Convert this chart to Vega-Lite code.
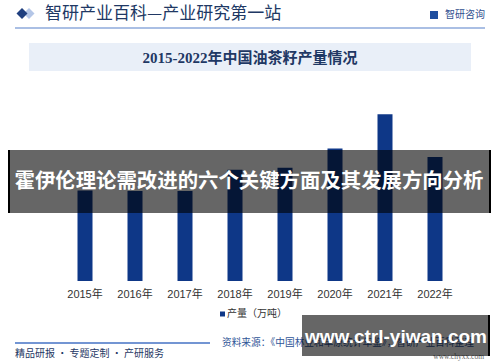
{
  "$schema": "https://vega.github.io/schema/vega-lite/v6.json",
  "width": 400,
  "height": 191,
  "autosize": {"type": "none"},
  "padding": {"left": 60, "top": 90, "right": 40, "bottom": 81},
  "background": "white",
  "config": {"view": {"stroke": null}, "font": "Liberation Sans, Noto Sans CJK SC"},
  "layer": [
    {
      "data": {"values": [
        {"year": "2015年", "output": 213},
        {"year": "2016年", "output": 212},
        {"year": "2017年", "output": 212},
        {"year": "2018年", "output": 262},
        {"year": "2019年", "output": 267},
        {"year": "2020年", "output": 312},
        {"year": "2021年", "output": 393},
        {"year": "2022年", "output": 292}
      ]},
      "mark": {"type": "bar", "color": "#0e3787"},
      "encoding": {
        "x": {"field": "year", "type": "nominal", "sort": null,
          "scale": {"paddingInner": 0.7, "paddingOuter": 0.35},
          "axis": {"title": null, "labelAngle": 0, "labelColor": "#333333", "labelFontSize": 11, "labelFont": "Liberation Sans, Noto Sans CJK SC", "ticks": false, "domain": false, "labelPadding": 7}},
        "y": {"field": "output", "type": "quantitative",
          "scale": {"domain": [0, 450], "nice": false},
          "axis": {"title": null, "values": [0, 50, 100, 150, 200, 250, 300, 350, 400, 450], "labelColor": "#666666", "labelFontSize": 11, "labelFont": "Liberation Sans", "ticks": false, "domain": false, "labelPadding": 9, "gridColor": "#e3e3e3"}}
      }
    },
    {
      "layer": [
        {"mark": {"type": "rect", "color": "#e9eff8"},
         "encoding": {"x": {"datum": 2013.88, "type": "quantitative"}, "x2": {"datum": 2022.72}, "y": {"datum": 560.7, "type": "quantitative"}, "y2": {"datum": 494.8}}},
        {"mark": {"type": "text", "text": "2015-2022年中国油茶籽产量情况", "font": "Liberation Serif, Noto Sans CJK SC", "fontSize": 15, "fontWeight": "bold", "color": "#1f3864", "align": "center", "baseline": "middle"},
         "encoding": {"x": {"datum": 2018.3, "type": "quantitative"}, "y": {"datum": 525.4, "type": "quantitative"}}},
        {"mark": {"type": "point", "shape": "diamond", "filled": true, "size": 121, "color": "#b4c6e7", "opacity": 1},
         "encoding": {"x": {"datum": 2013.88, "type": "quantitative"}, "y": {"datum": 630.2, "type": "quantitative"}}},
        {"mark": {"type": "point", "shape": "diamond", "filled": true, "size": 121, "color": "#1f3f7f", "opacity": 1},
         "encoding": {"x": {"datum": 2013.74, "type": "quantitative"}, "y": {"datum": 630.2, "type": "quantitative"}}},
        {"mark": {"type": "text", "text": "智研产业百科—产业研究第一站", "font": "Noto Sans CJK SC", "fontSize": 17, "color": "#203864", "align": "left", "baseline": "middle"},
         "encoding": {"x": {"datum": 2014.2, "type": "quantitative"}, "y": {"datum": 629.1, "type": "quantitative"}}},
        {"mark": {"type": "point", "shape": "square", "filled": true, "size": 64, "color": "#1f4e9f", "opacity": 1},
         "encoding": {"x": {"datum": 2021.98, "type": "quantitative"}, "y": {"datum": 626.7, "type": "quantitative"}}},
        {"mark": {"type": "text", "text": "智研咨询", "font": "Noto Sans CJK SC", "fontSize": 10, "color": "#2f4f8f", "align": "left", "baseline": "middle"},
         "encoding": {"x": {"datum": 2022.2, "type": "quantitative"}, "y": {"datum": 626.7, "type": "quantitative"}}},
        {"mark": {"type": "rule", "color": "#8eaadb", "strokeWidth": 1.5},
         "encoding": {"x": {"datum": 2013.6, "type": "quantitative"}, "x2": {"datum": 2023.0}, "y": {"datum": 596.1, "type": "quantitative"}}},
        {"mark": {"type": "point", "shape": "square", "filled": true, "size": 25, "color": "#0e3787", "opacity": 1},
         "encoding": {"x": {"datum": 2017.75, "type": "quantitative"}, "y": {"datum": -77.75, "type": "quantitative"}}},
        {"mark": {"type": "text", "text": "产量（万吨）", "font": "Noto Sans CJK SC", "fontSize": 10, "color": "#333333", "align": "left", "baseline": "middle"},
         "encoding": {"x": {"datum": 2017.84, "type": "quantitative"}, "y": {"datum": -77.75, "type": "quantitative"}}},
        {"mark": {"type": "rule", "color": "#4472c4", "strokeWidth": 1.5},
         "encoding": {"x": {"datum": 2013.6, "type": "quantitative"}, "x2": {"datum": 2017.5}, "y": {"datum": -146.1, "type": "quantitative"}}},
        {"mark": {"type": "text", "text": "精品研报 · 专题定制 · 产研服务", "font": "Noto Sans CJK SC", "fontSize": 10, "color": "#1f3864", "align": "left", "baseline": "middle"},
         "encoding": {"x": {"datum": 2013.6, "type": "quantitative"}, "y": {"datum": -172.0, "type": "quantitative"}}},
        {"mark": {"type": "text", "text": "资料来源：《中国林业和草原统计年鉴》，智研产业百科整理", "font": "Noto Sans CJK SC", "fontSize": 9.7, "color": "#2f5597", "align": "left", "baseline": "middle"},
         "encoding": {"x": {"datum": 2017.74, "type": "quantitative"}, "y": {"datum": -146.1, "type": "quantitative"}}},
        {"mark": {"type": "text", "text": "www.chyxx.com", "font": "Liberation Serif", "fontSize": 7.5, "color": "#666666", "align": "right", "baseline": "middle"},
         "encoding": {"x": {"datum": 2022.98, "type": "quantitative"}, "y": {"datum": -179.1, "type": "quantitative"}}},
        {"mark": {"type": "rect", "color": "#000000", "opacity": 0.6},
         "encoding": {"x": {"datum": 2013.46, "type": "quantitative"}, "x2": {"datum": 2023.12}, "y": {"datum": 308.6, "type": "quantitative"}, "y2": {"datum": 160.2}}},
        {"mark": {"type": "rule", "color": "#000000", "strokeWidth": 2},
         "encoding": {"x": {"datum": 2013.48, "type": "quantitative"}, "y": {"datum": 308.6, "type": "quantitative"}, "y2": {"datum": 160.2}}},
        {"mark": {"type": "rule", "color": "#000000", "strokeWidth": 2},
         "encoding": {"x": {"datum": 2023.1, "type": "quantitative"}, "y": {"datum": 308.6, "type": "quantitative"}, "y2": {"datum": 160.2}}},
        {"mark": {"type": "text", "text": "霍伊伦理论需改进的六个关键方面及其发展方向分析", "font": "Noto Sans CJK SC", "fontSize": 20.4, "fontWeight": "bold", "color": "#ffffff", "align": "center", "baseline": "middle"},
         "encoding": {"x": {"datum": 2018.28, "type": "quantitative"}, "y": {"datum": 233.2, "type": "quantitative"}}},
        {"mark": {"type": "rect", "color": "#000000", "opacity": 0.6},
         "encoding": {"x": {"datum": 2019.34, "type": "quantitative"}, "x2": {"datum": 2023.1}, "y": {"datum": -80.1, "type": "quantitative"}, "y2": {"datum": -176.7}}},
        {"mark": {"type": "rule", "color": "#000000", "strokeWidth": 2},
         "encoding": {"x": {"datum": 2023.08, "type": "quantitative"}, "y": {"datum": -80.1, "type": "quantitative"}, "y2": {"datum": -176.7}}},
        {"mark": {"type": "text", "text": "www.ctrl-yiwan.com", "font": "Liberation Sans", "fontSize": 19, "fontWeight": "bold", "color": "#ffffff", "align": "center", "baseline": "middle"},
         "encoding": {"x": {"datum": 2021.22, "type": "quantitative"}, "y": {"datum": -131.9, "type": "quantitative"}}}
      ],
      "data": {"values": [{}]},
      "encoding": {
        "x": {"type": "quantitative", "scale": {"domain": [2014.5, 2022.5], "nice": false, "zero": false}, "axis": null},
        "y": {"type": "quantitative", "scale": {"domain": [0, 450], "nice": false}, "axis": null}
      }
    }
  ],
  "resolve": {"scale": {"x": "independent"}, "axis": {"x": "independent"}}
}
